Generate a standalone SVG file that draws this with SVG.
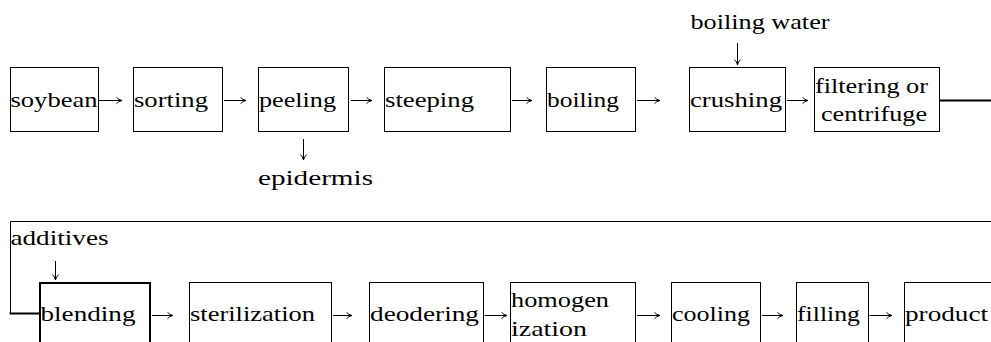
<svg xmlns="http://www.w3.org/2000/svg" width="991" height="342" viewBox="0 0 991 342" font-family="Liberation Serif">
<style>
.box{fill:none;stroke:#000;stroke-width:1}
.thick{fill:none;stroke:#000;stroke-width:2}
.t{font-size:22px;fill:#000}
.c{fill:none;stroke:#000;stroke-width:1}
.cl{fill:none;stroke:#000;stroke-width:1;marker-end:url(#ah)}
</style>
<defs>
<marker id="ah" viewBox="0 0 8 8" refX="7.5" refY="4" markerWidth="8" markerHeight="8" markerUnits="userSpaceOnUse" orient="auto">
<path d="M2,0.8 Q4,3.4 7.5,4 Q4,4.6 2,7.2" fill="none" stroke="#000" stroke-width="1"/>
</marker>
</defs>
<rect width="991" height="342" fill="#fff"/>
<g id="connectors">
<line class="cl" x1="99" y1="100.5" x2="122" y2="100.5"/>
<line class="cl" x1="224" y1="100.5" x2="246" y2="100.5"/>
<line class="cl" x1="351" y1="100.5" x2="372" y2="100.5"/>
<line class="cl" x1="512" y1="100.5" x2="532" y2="100.5"/>
<line class="cl" x1="637" y1="100.5" x2="660" y2="100.5"/>
<line class="cl" x1="787" y1="100.5" x2="808" y2="100.5"/>
<line class="cl" x1="303.5" y1="139" x2="303.5" y2="160"/>
<line class="cl" x1="737.5" y1="43" x2="737.5" y2="65"/>
<line x1="940" y1="100.5" x2="991" y2="100.5" stroke="#000" stroke-width="2"/>
<polyline class="c" points="991,221.5 10.5,221.5 10.5,313"/>
<line x1="9.5" y1="313.5" x2="39" y2="313.5" stroke="#000" stroke-width="2"/>
<line class="cl" x1="55.5" y1="261" x2="55.5" y2="280"/>
<line class="cl" x1="152" y1="315.5" x2="173" y2="315.5"/>
<line class="cl" x1="333" y1="315.5" x2="352" y2="315.5"/>
<line class="cl" x1="484.5" y1="315.5" x2="507" y2="315.5"/>
<line class="cl" x1="637" y1="315.5" x2="660" y2="315.5"/>
<line class="cl" x1="762" y1="315.5" x2="783" y2="315.5"/>
<line class="cl" x1="869.5" y1="315.5" x2="892" y2="315.5"/>
</g>
<g id="soybean"><rect class="box" x="10.5" y="67.5" width="88" height="64"/><text class="t" font-family="Liberation Serif, serif" x="10.5" y="107" textLength="87" lengthAdjust="spacingAndGlyphs">soybean</text></g>
<g id="sorting"><rect class="box" x="133.5" y="67.5" width="89" height="64"/><text class="t" font-family="Liberation Serif, serif" x="134" y="107" textLength="74" lengthAdjust="spacingAndGlyphs">sorting</text></g>
<g id="peeling"><rect class="box" x="258.5" y="67.5" width="90" height="64"/><text class="t" font-family="Liberation Serif, serif" x="259" y="107" textLength="77" lengthAdjust="spacingAndGlyphs">peeling</text></g>
<g id="epidermis"><text class="t" font-family="Liberation Serif, serif" x="258" y="185" textLength="115" lengthAdjust="spacingAndGlyphs">epidermis</text></g>
<g id="steeping"><rect class="box" x="384.5" y="67.5" width="126" height="64"/><text class="t" font-family="Liberation Serif, serif" x="385" y="107" textLength="89" lengthAdjust="spacingAndGlyphs">steeping</text></g>
<g id="boiling"><rect class="box" x="546.5" y="67.5" width="89" height="64"/><text class="t" font-family="Liberation Serif, serif" x="547" y="107" textLength="72" lengthAdjust="spacingAndGlyphs">boiling</text></g>
<g id="boiling-water"><text class="t" font-family="Liberation Serif, serif" x="690.5" y="29" textLength="139" lengthAdjust="spacingAndGlyphs">boiling water</text></g>
<g id="crushing"><rect class="box" x="689.5" y="67.5" width="96" height="64"/><text class="t" font-family="Liberation Serif, serif" x="690" y="107" textLength="92" lengthAdjust="spacingAndGlyphs">crushing</text></g>
<g id="filtering"><rect class="box" x="814.5" y="67.5" width="125" height="64"/><text class="t" font-family="Liberation Serif, serif" x="815" y="93" textLength="113" lengthAdjust="spacingAndGlyphs">filtering or</text><text class="t" font-family="Liberation Serif, serif" x="821" y="121" textLength="106" lengthAdjust="spacingAndGlyphs">centrifuge</text></g>
<g id="additives"><text class="t" font-family="Liberation Serif, serif" x="10.5" y="245" textLength="98" lengthAdjust="spacingAndGlyphs">additives</text></g>
<g id="blending"><rect class="thick" x="40" y="283" width="110" height="64"/><text class="t" font-family="Liberation Serif, serif" x="40.5" y="320.5" textLength="95" lengthAdjust="spacingAndGlyphs">blending</text></g>
<g id="sterilization"><rect class="box" x="189.5" y="282.5" width="142" height="64"/><text class="t" font-family="Liberation Serif, serif" x="190" y="320.5" textLength="125" lengthAdjust="spacingAndGlyphs">sterilization</text></g>
<g id="deodering"><rect class="box" x="369.5" y="282.5" width="114" height="64"/><text class="t" font-family="Liberation Serif, serif" x="370" y="320.5" textLength="109" lengthAdjust="spacingAndGlyphs">deodering</text></g>
<g id="homogenization"><rect class="box" x="510.5" y="282.5" width="125" height="64"/><text class="t" font-family="Liberation Serif, serif" x="511" y="307" textLength="98" lengthAdjust="spacingAndGlyphs">homogen</text><text class="t" font-family="Liberation Serif, serif" x="511" y="335.5" textLength="76" lengthAdjust="spacingAndGlyphs">ization</text></g>
<g id="cooling"><rect class="box" x="671.5" y="282.5" width="89" height="64"/><text class="t" font-family="Liberation Serif, serif" x="672" y="320.5" textLength="78" lengthAdjust="spacingAndGlyphs">cooling</text></g>
<g id="filling"><rect class="box" x="796.5" y="282.5" width="72" height="64"/><text class="t" font-family="Liberation Serif, serif" x="797" y="320.5" textLength="63" lengthAdjust="spacingAndGlyphs">filling</text></g>
<g id="product"><rect class="box" x="904.5" y="282.5" width="100" height="64"/><text class="t" font-family="Liberation Serif, serif" x="905" y="320.5" textLength="83" lengthAdjust="spacingAndGlyphs">product</text></g>
</svg>
